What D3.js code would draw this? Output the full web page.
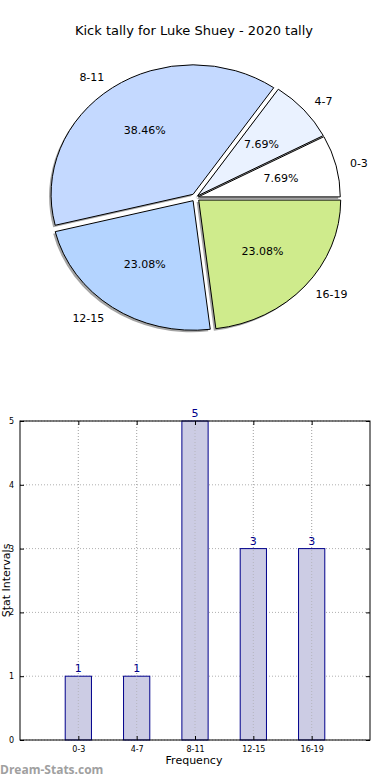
<!DOCTYPE html>
<html>
<head>
<meta charset="utf-8">
<script src="https://cdn.jsdelivr.net/npm/d3@7/dist/d3.min.js"></script>
<style>
  html, body { margin: 0; padding: 0; background: #fff; }
  svg { display: block; font-family: "DejaVu Sans", sans-serif; }
</style>
</head>
<body>
<svg id="chart" width="390" height="780"></svg>
<script>
// ---- data ----
const categories = ["0-3", "4-7", "8-11", "12-15", "16-19"];
const counts = [1, 1, 5, 3, 3];
const pieColors = ["#ffffff", "#eaf2ff", "#c4d9ff", "#b4d4ff", "#cfeb8c"];
const explode = [0.02, 0.02, 0.03, 0.03, 0.03];
const yTicks = [0, 1, 2, 3, 4, 5];
const titleText = "Kick tally for Luke Shuey - 2020 tally";

const svg = d3.select("#chart");

// ---- title ----
svg.append("text").attr("x", 194).attr("y", 35)
  .attr("text-anchor", "middle").attr("font-size", 13).attr("fill", "#000")
  .text(titleText);

// ---- pie (matplotlib-like: counter-clockwise from 3 o'clock, stretched ellipse) ----
const cx = 195.5, cy = 197.5, rx = 142, ry = 129.5;
const total = d3.sum(counts);
const pieGen = d3.pie().sort(null).startAngle(0).endAngle(2 * Math.PI);
const slices = pieGen(counts);
const arcUnit = d3.arc().innerRadius(0).outerRadius(1);

const pieG = svg.append("g");
function slicePath(s) {
  return arcUnit({startAngle: Math.PI / 2 - s.endAngle, endAngle: Math.PI / 2 - s.startAngle});
}
slices.forEach((s, i) => {
  const m = (s.startAngle + s.endAngle) / 2;
  s.ox = explode[i] * rx * Math.cos(m);
  s.oy = -explode[i] * ry * Math.sin(m);
  s.m = m;
});
// shadows
slices.forEach((s, i) => {
  pieG.append("path")
    .attr("d", slicePath(s))
    .attr("transform", `translate(${cx + s.ox - 2},${cy + s.oy + 2}) scale(${rx},${ry})`)
    .attr("fill", "#4a4a4a").attr("fill-opacity", 0.5);
});
// slices
slices.forEach((s, i) => {
  pieG.append("path")
    .attr("d", slicePath(s))
    .attr("transform", `translate(${cx + s.ox},${cy + s.oy}) scale(${rx},${ry})`)
    .attr("fill", pieColors[i]).attr("stroke", "#000")
    .attr("stroke-width", 1).attr("vector-effect", "non-scaling-stroke");
});
// labels
slices.forEach((s, i) => {
  const c = Math.cos(s.m), sn = Math.sin(s.m);
  const lx = cx + s.ox + 1.1 * rx * c;
  const ly = cy + s.oy - 1.1 * ry * sn;
  pieG.append("text").attr("x", lx).attr("y", ly)
    .attr("dy", "0.35em").attr("font-size", 11)
    .attr("text-anchor", c >= 0 ? "start" : "end")
    .text(categories[i]);
  const px = cx + s.ox + 0.6 * rx * c;
  const py = cy + s.oy - 0.6 * ry * sn;
  pieG.append("text").attr("x", px).attr("y", py)
    .attr("dy", "0.35em").attr("font-size", 11)
    .attr("text-anchor", "middle")
    .text((counts[i] / total * 100).toFixed(2) + "%");
});

// ---- bar chart ----
const L = 20, R = 370, T = 421, B = 740;
const x = d3.scaleLinear().domain([-1, 5]).range([L, R]);
const y = d3.scaleLinear().domain([0, 5]).range([B, T]);
const idx = categories.map((d, i) => i);
const g = svg.append("g");

// grid
g.selectAll("line.gx").data(idx).enter().append("line")
  .attr("x1", d => x(d)).attr("x2", d => x(d)).attr("y1", T).attr("y2", B)
  .attr("stroke", "#b0b0b0").attr("stroke-width", 1).attr("stroke-dasharray", "1,2");
g.selectAll("line.gy").data(yTicks).enter().append("line")
  .attr("x1", L).attr("x2", R).attr("y1", d => y(d)).attr("y2", d => y(d))
  .attr("stroke", "#b0b0b0").attr("stroke-width", 1).attr("stroke-dasharray", "1,2");

// bars
const bw = 0.45;
g.selectAll("rect.bar").data(idx).enter().append("rect")
  .attr("x", d => x(d - bw / 2)).attr("width", d => x(bw) - x(0))
  .attr("y", d => y(counts[d])).attr("height", d => y(0) - y(counts[d]))
  .attr("fill", "#ccccE4").attr("stroke", "#00008b").attr("stroke-width", 1);

// grid over bars
g.selectAll("line.gx2").data(idx).enter().append("line")
  .attr("x1", d => x(d)).attr("x2", d => x(d)).attr("y1", T).attr("y2", B)
  .attr("stroke", "#a8a8a8").attr("stroke-width", 1).attr("stroke-dasharray", "1,2").attr("opacity", 0.6);

// value labels
g.selectAll("text.val").data(idx).enter().append("text")
  .attr("x", d => x(d)).attr("y", d => y(counts[d]) - 4)
  .attr("text-anchor", "middle").attr("font-size", 11).attr("fill", "#00008b")
  .text(d => counts[d]);

// frame
g.append("rect").attr("x", L).attr("y", T).attr("width", R - L).attr("height", B - T)
  .attr("fill", "none").attr("stroke", "#000").attr("stroke-width", 1);

// axes with inward ticks on all sides
const axB = d3.axisBottom(x).tickValues(idx).tickFormat(d => categories[d]).tickSizeInner(-4).tickSizeOuter(0).tickPadding(6);
const axT = d3.axisTop(x).tickValues(idx).tickFormat("").tickSizeInner(-4).tickSizeOuter(0);
const axLft = d3.axisLeft(y).tickValues(yTicks).tickFormat(d3.format("d")).tickSizeInner(-4).tickSizeOuter(0).tickPadding(6);
const axRt = d3.axisRight(y).tickValues(yTicks).tickFormat("").tickSizeInner(-4).tickSizeOuter(0);
function style(sel) {
  sel.select(".domain").remove();
  sel.selectAll("text").attr("font-size", 8).attr("font-family", "DejaVu Sans, sans-serif").attr("fill", "#000");
  sel.selectAll("line").attr("stroke", "#000");
}
g.append("g").attr("transform", `translate(0,${B})`).call(axB).call(style);
g.append("g").attr("transform", `translate(0,${T})`).call(axT).call(style);
g.append("g").attr("transform", `translate(${L},0)`).call(axLft).call(style);
g.append("g").attr("transform", `translate(${R},0)`).call(axRt).call(style);

// axis labels
svg.append("text").attr("x", 194).attr("y", 764).attr("text-anchor", "middle")
  .attr("font-size", 11).text("Frequency");
svg.append("text").attr("transform", `translate(10,${(T + B) / 2}) rotate(-90)`)
  .attr("text-anchor", "middle").attr("font-size", 11).text("Stat Intervals");

// watermark
svg.append("text").attr("x", 0).attr("y", 774).attr("font-size", 12)
  .attr("font-weight", "bold").attr("fill", "#a0a0a0")
  .attr("font-family", "Open Sans, DejaVu Sans, sans-serif")
  .text("Dream-Stats.com");
</script>
</body>
</html>
